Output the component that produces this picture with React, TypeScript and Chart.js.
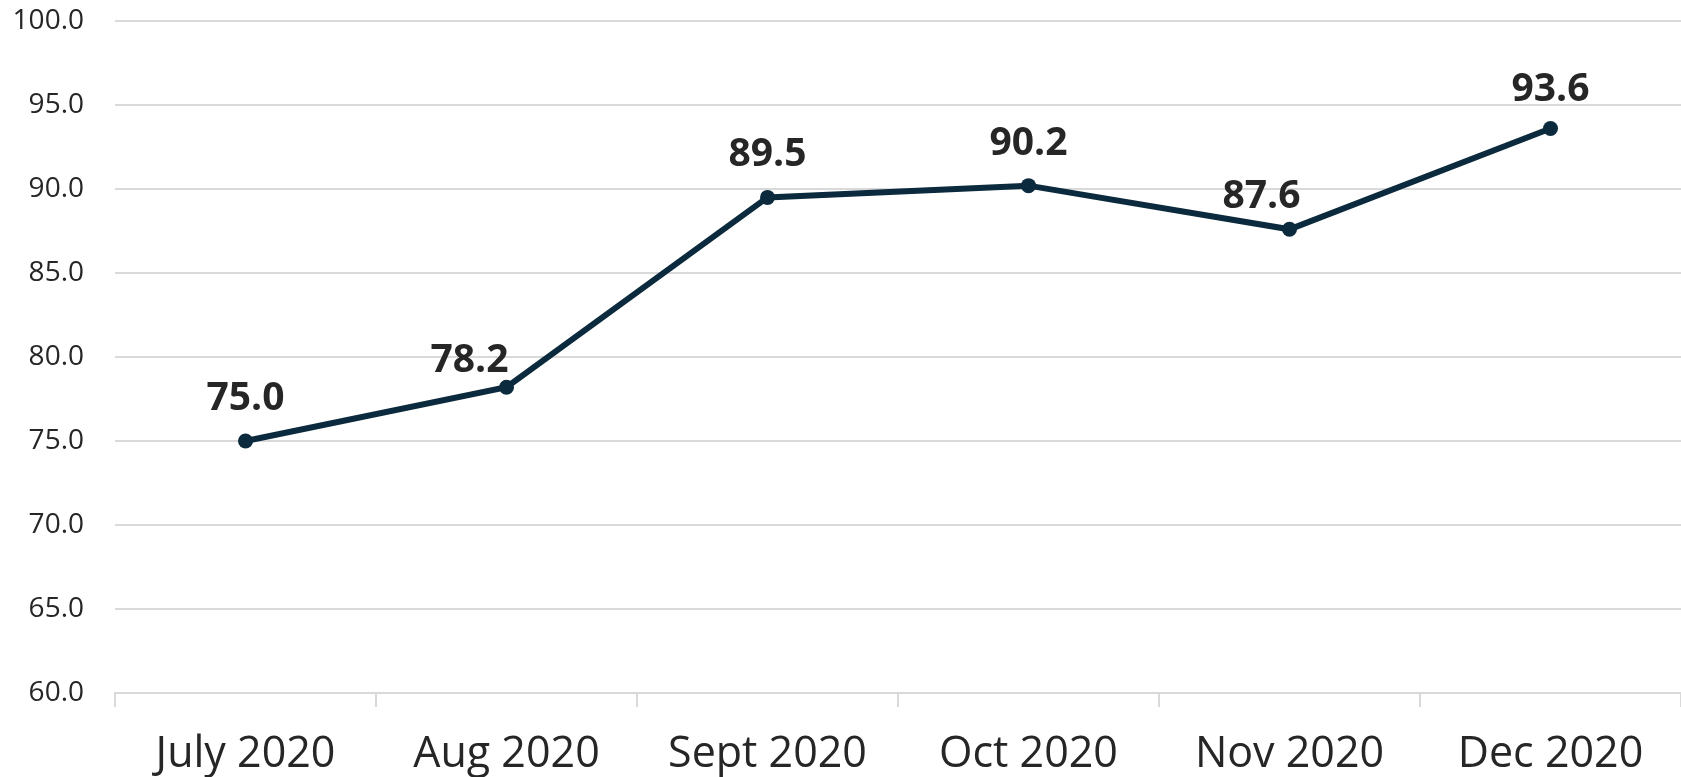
import React, { useEffect, useRef } from "react";
import { Chart, registerables } from "chart.js";

Chart.register(...registerables);

const categories = ["July 2020", "Aug 2020", "Sept 2020", "Oct 2020", "Nov 2020", "Dec 2020"];
const values = [75.0, 78.2, 89.5, 90.2, 87.6, 93.6];
const yTicks = [60, 65, 70, 75, 80, 85, 90, 95, 100];

const labelPlugin = {
  id: "valueLabels",
  afterDatasetsDraw(chart: any, _args: any, opts: any) {
    const ctx = chart.ctx;
    const meta = chart.getDatasetMeta(0);
    ctx.save();
    ctx.font = "bold 39px 'Open Sans'";
    ctx.fillStyle = "#262626";
    ctx.textAlign = "center";
    ctx.textBaseline = "alphabetic";
    meta.data.forEach((pt: any, i: number) => {
      const sh = (opts.shifts && opts.shifts[i]) || [0, 30];
      ctx.fillText(values[i].toFixed(1), pt.x + sh[0], pt.y - sh[1]);
    });
    ctx.restore();
  },
};

export default function App() {
  const ref = useRef<HTMLCanvasElement>(null);
  useEffect(() => {
    document.body.style.margin = "0";
    const chart = new Chart(ref.current!, {
      type: "line",
      data: {
        labels: categories,
        datasets: [
          {
            data: values,
            borderColor: "#0b2a3d",
            backgroundColor: "#0b2a3d",
            borderWidth: 6,
            pointRadius: 7.5,
            pointHoverRadius: 7.5,
            pointBackgroundColor: "#0b2a3d",
            pointBorderWidth: 0,
            tension: 0,
          },
        ],
      },
      plugins: [labelPlugin],
      options: {
        animation: false,
        responsive: false,
        maintainAspectRatio: false,
        layout: { autoPadding: false, padding: { top: 21, right: 0, left: 0, bottom: 0 } },
        plugins: {
          legend: { display: false },
          tooltip: { enabled: false },
          valueLabels: {
            shifts: [[0, 31], [-37, 15], [0, 31], [0, 31], [-28, 21], [0, 28]],
          },
        } as any,
        scales: {
          x: {
            offset: true,
            grid: {
              offset: true,
              drawOnChartArea: false,
              drawTicks: true,
              tickLength: 14,
              color: "#d9d9d9",
              lineWidth: 2,
            },
            border: { display: true, color: "#d9d9d9", width: 2 },
            ticks: {
              font: { family: "'Open Sans'", size: 43 },
              color: "#262626",
              padding: 22,
              maxRotation: 0,
              autoSkip: false,
            },
            afterFit: (s: any) => {
              s.height = 84;
              s.paddingLeft = 0;
              s.paddingRight = 0;
            },
          },
          y: {
            min: 60,
            max: 100,
            afterBuildTicks: (s: any) => {
              s.ticks = yTicks.map((v) => ({ value: v }));
            },
            grid: { color: "#d9d9d9", lineWidth: 2, drawTicks: false },
            border: { display: false },
            ticks: {
              font: { family: "'Open Sans'", size: 28 },
              color: "#262626",
              padding: 31,
              callback: (v: any) => Number(v).toFixed(1),
            },
            afterFit: (s: any) => {
              s.width = 115;
              s.paddingTop = 0;
              s.paddingBottom = 0;
            },
          },
        },
      },
    });
    return () => chart.destroy();
  }, []);
  return (
    <div style={{ width: 1681, height: 777 }}>
      <canvas ref={ref} width={1681} height={777} style={{ display: "block" }} />
    </div>
  );
}
